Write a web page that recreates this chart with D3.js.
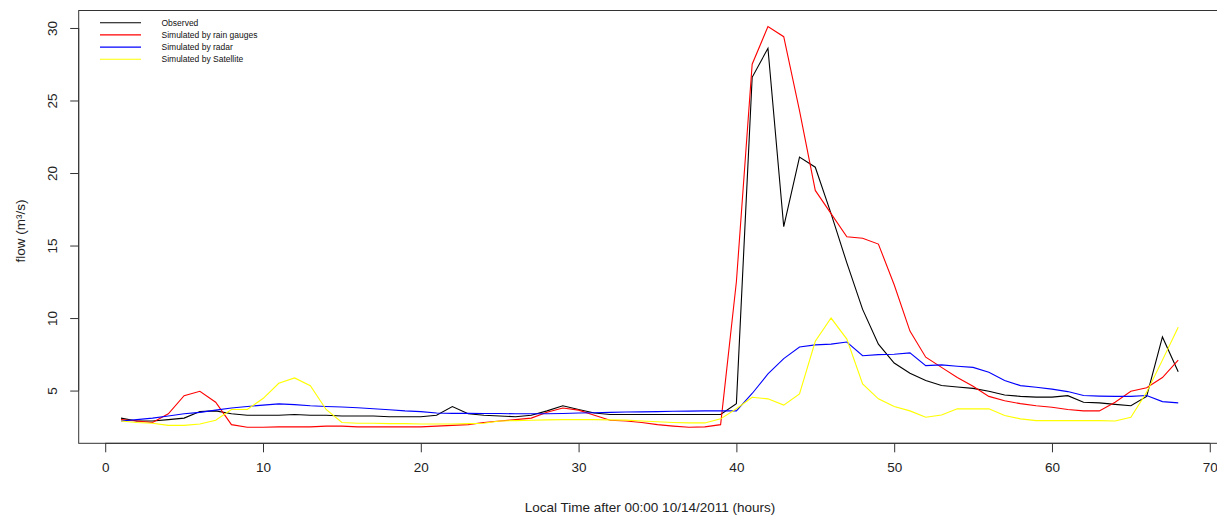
<!DOCTYPE html>
<html>
<head>
<meta charset="utf-8">
<script src="https://cdn.jsdelivr.net/npm/d3@7"></script>
<style>
  body { margin: 0; background: #fff; }
  svg { display: block; font-family: "Liberation Sans", Arial, sans-serif; }
</style>
</head>
<body>
<svg width="1217" height="519"></svg>
<script>
// hours 1..68
var hours = d3.range(1, 69);

var observed = [3.1, 2.9, 2.9, 3.0, 3.1, 3.55, 3.6, 3.4, 3.3, 3.3,
  3.3, 3.35, 3.3, 3.3, 3.25, 3.25, 3.25, 3.2, 3.2, 3.2,
  3.3, 3.9, 3.4, 3.3, 3.25, 3.2, 3.3, 3.6, 3.95, 3.7,
  3.45, 3.35, 3.35, 3.35, 3.35, 3.35, 3.35, 3.35, 3.35, 4.1,
  26.6, 28.6, 16.3, 21.1, 20.4, 17.2, 13.8, 10.6, 8.2, 6.9,
  6.2, 5.7, 5.35, 5.25, 5.15, 4.95, 4.7, 4.6, 4.55, 4.55,
  4.65, 4.2, 4.15, 4.05, 3.95, 4.6, 8.7, 6.3];

var rainGauges = [3.0, 2.9, 2.8, 3.4, 4.65, 4.95, 4.2, 2.65, 2.47, 2.47,
  2.5, 2.5, 2.5, 2.55, 2.55, 2.5, 2.5, 2.5, 2.5, 2.5,
  2.55, 2.6, 2.65, 2.8, 2.9, 3.0, 3.1, 3.5, 3.8, 3.65,
  3.3, 2.95, 2.9, 2.8, 2.65, 2.55, 2.47, 2.5, 2.65, 12.5,
  27.5, 30.1, 29.4, 24.3, 18.8, 17.2, 15.6, 15.5, 15.1, 12.3,
  9.1, 7.3, 6.6, 5.9, 5.3, 4.6, 4.3, 4.1, 3.95, 3.85,
  3.7, 3.6, 3.6, 4.2, 4.95, 5.2, 5.9, 7.1];

var radar = [2.9, 3.0, 3.1, 3.25, 3.4, 3.5, 3.65, 3.8, 3.9, 4.0,
  4.08, 4.03, 3.95, 3.9, 3.87, 3.82, 3.75, 3.68, 3.6, 3.55,
  3.45, 3.43, 3.43, 3.42, 3.42, 3.4, 3.4, 3.4, 3.42, 3.45,
  3.47, 3.5, 3.52, 3.53, 3.55, 3.57, 3.58, 3.6, 3.6, 3.6,
  4.8, 6.15, 7.2, 8.0, 8.15, 8.2, 8.35, 7.4, 7.48, 7.5,
  7.6, 6.72, 6.77, 6.68, 6.6, 6.26, 5.7, 5.34, 5.23, 5.1,
  4.93, 4.66, 4.62, 4.6, 4.6, 4.66, 4.24, 4.15];

var satellite = [2.9, 2.8, 2.75, 2.6, 2.6, 2.7, 2.95, 3.7, 3.7, 4.45,
  5.5, 5.87, 5.34, 3.7, 2.8, 2.75, 2.75, 2.72, 2.72, 2.7,
  2.7, 2.7, 2.72, 2.75, 2.9, 2.93, 2.95, 2.98, 3.0, 3.0,
  3.0, 2.98, 2.96, 2.9, 2.85, 2.8, 2.77, 2.77, 3.05, 3.75,
  4.54, 4.43, 4.0, 4.77, 8.4, 10.0, 8.55, 5.46, 4.43, 3.9,
  3.6, 3.16, 3.32, 3.74, 3.74, 3.74, 3.28, 3.05, 2.93, 2.93,
  2.93, 2.93, 2.93, 2.9, 3.16, 4.88, 7.1, 9.37];

var seriesNames = ["Observed", "Simulated by rain gauges", "Simulated by radar", "Simulated by Satellite"];
var seriesColors = ["#000000", "#ff0000", "#0000ff", "#ffff00"];
var seriesValues = [observed, rainGauges, radar, satellite];

var xTicks = [0, 10, 20, 30, 40, 50, 60, 70];
var yTicks = [5, 10, 15, 20, 25, 30];

var svg = d3.select("svg");
var plotLeft = 78.7, plotRight = 1220.5, plotTop = 10.5, plotBottom = 443.3;

// R style 4% padding on both axes
var xr = d3.extent(hours), xpad = (xr[1] - xr[0]) * 0.04;
var allY = d3.merge(seriesValues);
var yr = d3.extent(allY), ypad = (yr[1] - yr[0]) * 0.04;

var x = d3.scaleLinear().domain([xr[0] - xpad, xr[1] + xpad]).range([plotLeft, plotRight]);
var y = d3.scaleLinear().domain([yr[0] - ypad, yr[1] + ypad]).range([plotBottom, plotTop]);

// lines
var line = d3.line()
  .x(function(d, i) { return x(hours[i]); })
  .y(function(d) { return y(d); });

svg.selectAll("path.series")
  .data(seriesValues)
  .enter().append("path")
    .attr("class", "series")
    .attr("fill", "none")
    .attr("stroke", function(d, i) { return seriesColors[i]; })
    .attr("stroke-width", 1.1)
    .attr("d", line);

// box
svg.append("rect")
  .attr("x", plotLeft).attr("y", plotTop)
  .attr("width", plotRight - plotLeft).attr("height", plotBottom - plotTop)
  .attr("fill", "none").attr("stroke", "#333").attr("stroke-width", 1);

// x axis
var xAxis = d3.axisBottom(x).tickValues(xTicks).tickSize(9).tickPadding(10).tickFormat(d3.format("d"));
var gx = svg.append("g").attr("transform", "translate(0," + plotBottom + ")").call(xAxis);
gx.select(".domain").attr("d", "M" + x(0) + ",0H" + x(70)).attr("stroke", "#333");
gx.selectAll(".tick line").attr("stroke", "#333");
gx.selectAll("text").attr("font-size", "13.5px").attr("fill", "#222").attr("font-family", "Liberation Sans, Arial, sans-serif");

// y axis
var yAxis = d3.axisLeft(y).tickValues(yTicks).tickSize(8.5).tickPadding(0);
var gy = svg.append("g").attr("transform", "translate(" + plotLeft + ",0)").call(yAxis);
gy.select(".domain").attr("d", "M0," + y(5) + "V" + y(30)).attr("stroke", "#333");
gy.selectAll(".tick line").attr("stroke", "#333");
gy.selectAll("text")
  .attr("x", 0).attr("dy", null)
  .attr("transform", "translate(-26,0) rotate(-90)")
  .attr("text-anchor", "middle")
  .attr("dominant-baseline", "central")
  .attr("font-size", "13.5px").attr("fill", "#222")
  .attr("font-family", "Liberation Sans, Arial, sans-serif");

// axis titles
svg.append("text")
  .attr("x", 650).attr("y", 507)
  .attr("text-anchor", "middle").attr("dominant-baseline", "central")
  .attr("font-size", "13.5px").attr("fill", "#222")
  .text("Local Time after 00:00 10/14/2011 (hours)");

svg.append("text")
  .attr("transform", "translate(20," + ((plotTop + plotBottom) / 2 + 4) + ") rotate(-90)")
  .attr("text-anchor", "middle").attr("dominant-baseline", "central")
  .attr("font-size", "13.5px").attr("fill", "#222")
  .text("flow (m³/s)");

// legend
var legend = svg.append("g").selectAll("g")
  .data(seriesNames)
  .enter().append("g")
    .attr("transform", function(d, i) { return "translate(0," + (22.7 + i * 12.2) + ")"; });

legend.append("line")
  .attr("x1", 100).attr("x2", 141)
  .attr("stroke", function(d, i) { return seriesColors[i]; })
  .attr("stroke-width", 1.1);

legend.append("text")
  .attr("x", 161.5)
  .attr("dominant-baseline", "central")
  .attr("font-size", "8.5px").attr("fill", "#111")
  .text(function(d) { return d; });
</script>
</body>
</html>
